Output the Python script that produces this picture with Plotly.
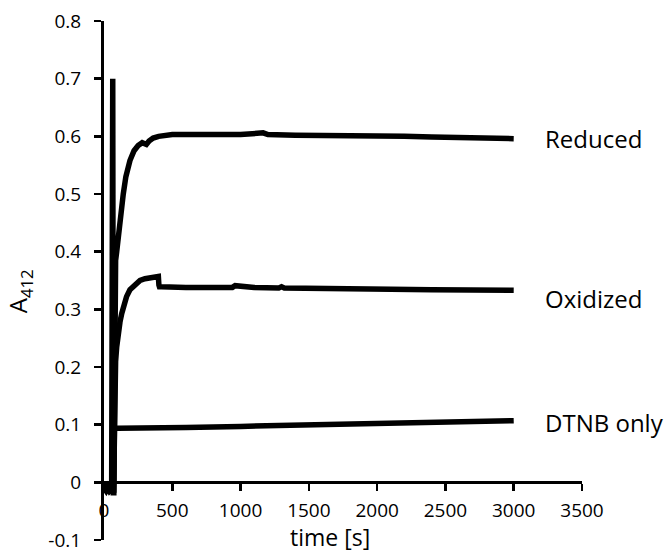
import plotly.graph_objects as go

# ---- data ----
x_ticks = [0, 500, 1000, 1500, 2000, 2500, 3000, 3500]
x_ticktext = ["0", "500", "1000", "1500", "2000", "2500", "3000", "3500"]
y_ticks = [-0.1, 0.0, 0.1, 0.2, 0.3, 0.4, 0.5, 0.6, 0.7, 0.8]
y_ticktext = ["-0.1", "0", "0.1", "0.2", "0.3", "0.4", "0.5", "0.6", "0.7", "0.8"]

series_names = ["Reduced", "Oxidized", "DTNB only"]

reduced_t = [0, 15, 30, 45, 56, 60, 64, 68, 72, 76, 80, 85, 93, 105, 120, 141, 160,
             190, 220, 250, 280, 300, 310, 330, 360, 400, 450, 500, 600, 800, 1000,
             1165, 1200, 1400, 1600, 1800, 2000, 2200, 2400, 2600, 2800, 3000]
reduced_a = [-0.010, -0.015, -0.008, -0.014, -0.012, 0.700, 0.700, -0.018, -0.018,
             0.100, 0.360, 0.385, 0.400, 0.430, 0.465, 0.500, 0.530, 0.558, 0.575,
             0.584, 0.589, 0.588, 0.586, 0.592, 0.597, 0.600, 0.602, 0.603, 0.603,
             0.603, 0.603, 0.606, 0.603, 0.602, 0.602, 0.601, 0.601, 0.600, 0.599,
             0.598, 0.597, 0.596]

oxidized_t = [0, 20, 40, 60, 70, 74, 78, 85, 93, 103, 117, 130, 141, 165, 190, 230,
              264, 300, 340, 380, 398, 402, 406, 420, 500, 600, 800, 940, 960, 1100,
              1280, 1300, 1320, 1500, 1800, 2100, 2400, 2700, 3000]
oxidized_a = [-0.012, -0.006, -0.015, -0.010, -0.018, 0.100, 0.170, 0.210, 0.235,
              0.258, 0.278, 0.293, 0.304, 0.322, 0.334, 0.344, 0.350, 0.353, 0.355,
              0.356, 0.357, 0.342, 0.339, 0.339, 0.338, 0.338, 0.338, 0.338, 0.341,
              0.338, 0.337, 0.339, 0.337, 0.336, 0.336, 0.335, 0.334, 0.334, 0.333]

dtnb_t = [0, 25, 50, 70, 74, 78, 100, 300, 600, 1000, 1500, 2000, 2500, 3000]
dtnb_a = [-0.010, -0.014, -0.008, -0.018, 0.092, 0.094, 0.094, 0.094, 0.095, 0.097,
          0.099, 0.101, 0.104, 0.107]

# ---- figure ----
FONT = "Open Sans, Liberation Sans, DejaVu Sans, sans-serif"
fig = go.Figure()
for name, t, a in [(series_names[2], dtnb_t, dtnb_a),
                   (series_names[1], oxidized_t, oxidized_a),
                   (series_names[0], reduced_t, reduced_a)]:
    fig.add_trace(go.Scatter(x=t, y=a, mode="lines", name=name,
                             line=dict(color="black", width=5.5),
                             showlegend=False, hoverinfo="skip"))

label_y = {"Reduced": 0.5955, "Oxidized": 0.319, "DTNB only": 0.104}
for name in series_names:
    fig.add_annotation(x=3214, y=label_y[name], xref="x", yref="y", text=name,
                       showarrow=False, xanchor="left", yanchor="middle",
                       font=dict(family=FONT, size=24, color="black"))

# axis titles
fig.add_annotation(x=0.4728, y=0.005, xref="paper", yref="paper", text="time [s]",
                   showarrow=False, xanchor="center", yanchor="middle",
                   font=dict(family=FONT, size=23, color="black"))
fig.add_annotation(x=-0.176, y=0.479, xref="paper", yref="paper",
                   text="A<sub>412</sub>", textangle=-90,
                   showarrow=False, xanchor="center", yanchor="middle",
                   font=dict(family=FONT, size=24, color="black"))

fig.update_layout(
    width=666, height=550,
    margin=dict(l=104, r=84, t=21, b=10.4, pad=0, autoexpand=False),
    paper_bgcolor="white", plot_bgcolor="white",
    font=dict(family=FONT, size=19, color="black"),
    xaxis=dict(range=[0, 3500], tickvals=x_ticks, ticktext=x_ticktext,
               showgrid=False, zeroline=False, showline=True, linecolor="black",
               linewidth=3, ticks="outside", ticklen=7, tickwidth=2.5,
               tickcolor="black", anchor="free", position=1/9,
               ticklabelstandoff=3, ticklabeloverflow="allow", automargin=False,
               tickfont=dict(size=19)),
    yaxis=dict(range=[-0.1, 0.8], tickvals=y_ticks, ticktext=y_ticktext,
               showgrid=False, zeroline=False, showline=True, linecolor="black",
               linewidth=3, ticks="outside", ticklen=7, tickwidth=2.5,
               tickcolor="black", ticklabelstandoff=9, ticklabeloverflow="allow",
               automargin=False, tickfont=dict(size=19)),
)

fig.write_html("out.html",
               config={"displayModeBar": False, "staticPlot": True},
               post_script="document.body.style.margin='0';document.body.style.overflow='hidden';")
